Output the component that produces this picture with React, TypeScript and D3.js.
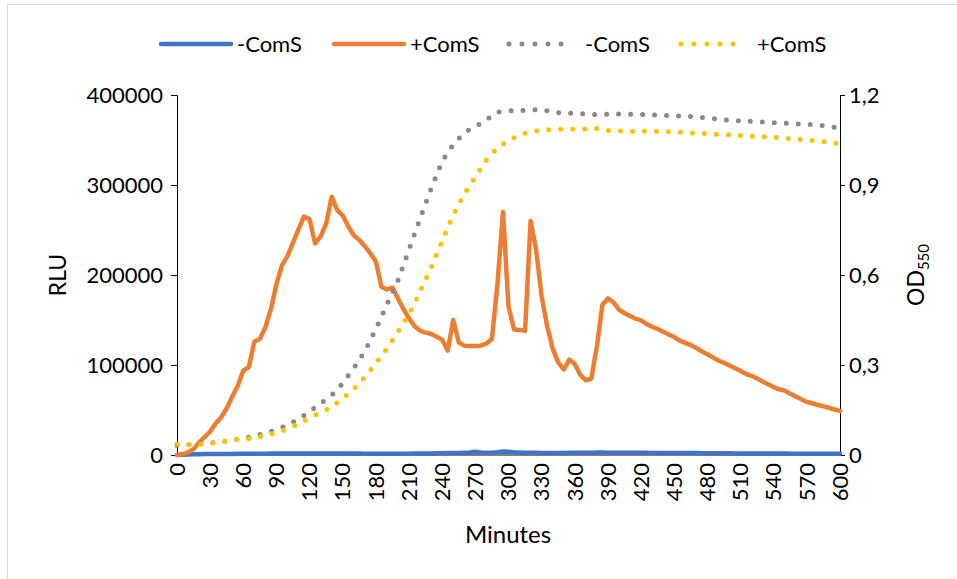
import React, { useEffect, useRef } from "react";
import * as d3 from "d3";

// RLU readings every 5 minutes
const minutesRlu = d3.range(0, 605, 5);
const rluMinus = [
  0, 300, 600, 800, 900, 1000, 1000, 1100, 1100, 1200, 1200, 1300, 1300,
  1400, 1400, 1500, 1500, 1600, 1600, 1700, 1700, 1800, 1800, 1800, 1800,
  1800, 1800, 1800, 1700, 1700, 1700, 1600, 1600, 1600, 1500, 1500, 1500,
  1500, 1500, 1500, 1500, 1500, 1500, 1600, 1600, 1700, 1800, 1900, 2000,
  2100, 2200, 2300, 2500, 2800, 3500, 2800, 2500, 2600, 3000, 3800, 3500,
  3000, 2800, 2600, 2500, 2400, 2300, 2300, 2200, 2200, 2300, 2400, 2500,
  2500, 2600, 2600, 2700, 2700, 2600, 2600, 2500, 2500, 2500, 2400, 2400,
  2400, 2300, 2300, 2300, 2200, 2200, 2200, 2100, 2100, 2100, 2000, 2000,
  2000, 1900, 1900, 1900, 1800, 1800, 1800, 1700, 1700, 1700, 1600, 1600,
  1600, 1600, 1500, 1500, 1500, 1500, 1400, 1400, 1400, 1400, 1400, 1400,
];
const rluPlus = [
  0, 800, 3000, 6500, 14000, 20000, 26000, 35000, 42000, 52000, 65000, 77000, 94000,
  97500, 126000, 129000, 142000, 162000, 190000, 211000, 221000, 236000, 251000, 265000, 262000,
  235000, 243000, 257000, 287000, 272000, 266000, 254000, 244000, 239000, 232000, 224000, 215000,
  187000, 184000, 186000, 174000, 162000, 152000, 143000, 138000, 136000, 134500, 131500, 128000,
  116000, 150000, 125000, 121500, 121000, 121000, 121500, 124000, 129000, 190000, 270000, 165000,
  139500, 139000, 138000, 260000, 228000, 176000, 143000, 118000, 103000, 95000, 106000, 101000,
  89000, 83000, 85000, 121000, 167000, 174000, 169500, 161500, 157500, 154500, 151500, 149500,
  145500, 142500, 140000, 137000, 134000, 131000, 127000, 124500, 122000, 119000, 115000, 112000,
  108500, 105000, 102500, 99500, 96500, 93500, 90000, 88000, 85000, 81500, 78500, 75500,
  73000, 71500, 68000, 65000, 62000, 59000, 57500, 55500, 54000, 52500, 50500, 49000,
];

// OD550 readings every 10 minutes
const minutesOd = d3.range(0, 610, 10);
const odMinus = [
  0.032, 0.034, 0.037, 0.04, 0.044, 0.049, 0.055, 0.064, 0.073, 0.084,
  0.1, 0.12, 0.145, 0.172, 0.199, 0.239, 0.29, 0.346, 0.42, 0.502,
  0.582, 0.685, 0.789, 0.888, 0.98, 1.035, 1.075, 1.094, 1.118, 1.143,
  1.147, 1.148, 1.15, 1.152, 1.143, 1.139, 1.139, 1.137, 1.135, 1.136,
  1.137, 1.136, 1.135, 1.134, 1.132, 1.131, 1.129, 1.127, 1.123, 1.119,
  1.116, 1.114, 1.112, 1.11, 1.108, 1.106, 1.104, 1.102, 1.1, 1.095, 1.09,
];
const odPlus = [
  0.037, 0.034, 0.035, 0.039, 0.044, 0.049, 0.053, 0.058, 0.065, 0.074,
  0.087, 0.104, 0.124, 0.141, 0.16, 0.188, 0.22, 0.259, 0.305, 0.355,
  0.41, 0.469, 0.545, 0.625, 0.713, 0.8, 0.87, 0.928, 0.983, 1.025,
  1.048, 1.067, 1.078, 1.082, 1.085, 1.086, 1.086, 1.087, 1.088, 1.082,
  1.08, 1.078, 1.079, 1.079, 1.078, 1.077, 1.075, 1.073, 1.071, 1.069,
  1.067, 1.065, 1.063, 1.061, 1.059, 1.056, 1.053, 1.05, 1.046, 1.042, 1.038,
];

const xTicks = d3.range(0, 630, 30);
const rluTicks = [0, 100000, 200000, 300000, 400000];
const odTicks = [0, 0.3, 0.6, 0.9, 1.2];

const legendItems = [
  { label: "-ComS", color: "#4472C4", dotted: false },
  { label: "+ComS", color: "#ED7D31", dotted: false },
  { label: "-ComS", color: "#898989", dotted: true },
  { label: "+ComS", color: "#FFC000", dotted: true },
];

const FONT = "Lato, 'Open Sans', sans-serif";

export default function App() {
  const ref = useRef<SVGSVGElement>(null);

  useEffect(() => {
    const svg = d3.select(ref.current);
    svg.selectAll("*").remove();

    const left = 177, right = 840, top = 95, bottom = 455;
    const x = d3.scaleLinear().domain([0, 600]).range([left, right]);
    const yL = d3.scaleLinear().domain([0, 400000]).range([bottom, top]);
    const yR = d3.scaleLinear().domain([0, 1.2]).range([bottom, top]);

    svg.append("rect")
      .attr("x", 7.5).attr("y", 4.5)
      .attr("width", 980).attr("height", 620)
      .attr("fill", "white").attr("stroke", "#d9d9d9");

    // axes
    const gl = svg.append("g")
      .attr("transform", `translate(${left},0)`)
      .call(d3.axisLeft(yL).tickValues(rluTicks).tickSize(6).tickPadding(8).tickFormat(d3.format("d")));
    const gr = svg.append("g")
      .attr("transform", `translate(${right},0)`)
      .call(d3.axisRight(yR).tickValues(odTicks).tickSize(5).tickPadding(4)
        .tickFormat(d => (d === 0 ? "0" : d3.format(".1f")(d as number).replace(".", ","))));
    [gl, gr].forEach(g => {
      g.select(".domain").attr("stroke", "#000");
      g.selectAll(".tick line").attr("stroke", "#000");
      g.selectAll("text").attr("font-family", FONT).attr("font-size", 22).attr("fill", "#000");
    });

    svg.append("line")
      .attr("x1", left).attr("x2", right).attr("y1", bottom).attr("y2", bottom)
      .attr("stroke", "#000");

    svg.append("g").selectAll("text")
      .data(xTicks)
      .join("text")
      .attr("transform", d => `translate(${x(d)},463) rotate(-90)`)
      .attr("text-anchor", "end")
      .attr("dy", "0.35em")
      .attr("font-family", FONT).attr("font-size", 22)
      .text(d => d);

    // axis titles
    svg.append("text")
      .attr("x", 508).attr("y", 543)
      .attr("text-anchor", "middle")
      .attr("font-family", FONT).attr("font-size", 24)
      .text("Minutes");
    svg.append("text")
      .attr("transform", "translate(66,275) rotate(-90)")
      .attr("text-anchor", "middle")
      .attr("font-family", FONT).attr("font-size", 23)
      .text("RLU");
    const od = svg.append("text")
      .attr("transform", "translate(924,275) rotate(-90)")
      .attr("text-anchor", "middle")
      .attr("font-family", FONT).attr("font-size", 23);
    od.append("tspan").text("OD");
    od.append("tspan").attr("font-size", 15).attr("dy", 5).text("550");

    // solid RLU lines
    const lineL = d3.line<number>().x((_, i) => x(minutesRlu[i])).y(d => yL(d));
    [[rluMinus, "#4472C4"], [rluPlus, "#ED7D31"]].forEach(([data, color]) => {
      svg.append("path")
        .datum(data as number[])
        .attr("d", lineL)
        .attr("fill", "none")
        .attr("stroke", color as string)
        .attr("stroke-width", 4.5)
        .attr("stroke-linejoin", "round")
        .attr("stroke-linecap", "round");
    });

    // dotted OD lines
    const lineR = d3.line<number>().x((_, i) => x(minutesOd[i])).y(d => yR(d));
    [[odMinus, "#898989"], [odPlus, "#FFC000"]].forEach(([data, color]) => {
      svg.append("path")
        .datum(data as number[])
        .attr("d", lineR)
        .attr("fill", "none")
        .attr("stroke", color as string)
        .attr("stroke-width", 5)
        .attr("stroke-linecap", "round")
        .attr("stroke-dasharray", "0 12");
    });

    // legend
    const legendX = [161, 334, 509, 681];
    const lg = svg.append("g").selectAll("g")
      .data(legendItems)
      .join("g")
      .attr("transform", (_, i) => `translate(${legendX[i]},44)`);
    lg.append("line")
      .attr("x1", 0).attr("x2", d => (d.dotted ? 65 : 70))
      .attr("stroke", d => d.color)
      .attr("stroke-width", d => (d.dotted ? 5 : 4.5))
      .attr("stroke-linecap", "round")
      .attr("stroke-dasharray", d => (d.dotted ? "0 13" : null));
    lg.append("text")
      .attr("x", 76)
      .attr("dy", "0.35em")
      .attr("font-family", FONT).attr("font-size", 22)
      .text(d => d.label);
  }, []);

  return (
    <svg
      ref={ref}
      width={957}
      height={579}
      style={{ position: "absolute", left: 0, top: 0, background: "white" }}
    />
  );
}
